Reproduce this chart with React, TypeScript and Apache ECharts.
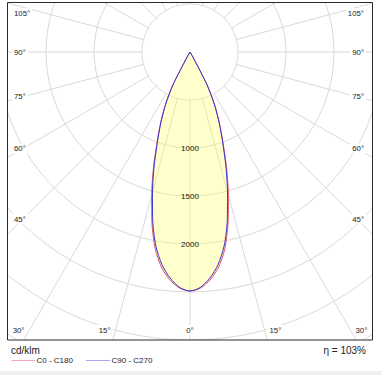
import React, { useEffect, useRef } from "react";
import * as echarts from "echarts";

// Photometric data (cd/klm) by gamma angle (deg), symmetric halves
const GAMMA = [0, 2.5, 5, 7.5, 10, 12.5, 15, 17.5, 20, 22.5, 25, 27.5, 30, 32.5];
const C0_C180 = [2490, 2462, 2385, 2265, 2085, 1830, 1545, 1265, 1005, 800, 605, 385, 60, 0];
const C90_C270 = [2490, 2455, 2365, 2235, 2050, 1795, 1510, 1240, 990, 790, 600, 380, 60, 0];
const RING_LABELS = [1000, 1500, 2000];
const ANGLE_LABELS = [0, 15, 30, 45, 60, 75, 90, 105];
const SERIES_NAMES = ["C0 - C180", "C90 - C270"];
const UNIT = "cd/klm";
const EFFICIENCY = "\u03b7 = 103%";

const RMAX = 4000;
const RSTEP = 500;
const CX = 190;
const CY = 52;
const RPX = 384;
const FONT = "'Liberation Sans', Arial, sans-serif";

function halfToFull(vals: number[]): [number, number][] {
  const right: [number, number][] = GAMMA.map((g, i) => [vals[i], -g] as [number, number]).reverse();
  const left: [number, number][] = GAMMA.slice(1).map((g, i) => [vals[i + 1], g] as [number, number]);
  return [...right, ...left];
}

function angleLabelElements() {
  const els: any[] = [];
  const bottomY = 330;
  const sideDx = 167;
  const base = { fill: "#1a1a1a", fontSize: 7.8, fontFamily: FONT, verticalAlign: "middle" };
  for (const a of ANGLE_LABELS) {
    const rad = (a * Math.PI) / 180;
    const s = Math.sin(rad);
    const c = Math.cos(rad);
    if (a === 0) {
      els.push({ type: "text", z: 12, style: { ...base, text: a + "\u00b0", x: CX, y: bottomY, align: "center", backgroundColor: "#fff", padding: [1, 1] } });
      continue;
    }
    for (const side of [-1, 1]) {
      const ySide = CY + (sideDx / s) * c;
      let x: number, y: number, align: string;
      if (ySide <= bottomY) {
        y = Math.max(ySide, 13);
        x = side < 0 ? 12 : 366;
        align = side < 0 ? "left" : "right";
      } else {
        const t = (bottomY - CY) / c;
        x = CX + side * t * s + side * 3;
        y = bottomY;
        align = side < 0 ? "right" : "left";
      }
      els.push({ type: "text", z: 12, style: { ...base, text: a + "\u00b0", x, y, align, backgroundColor: "#fff", padding: [1, 2] } });
    }
  }
  return els;
}

export default function App() {
  const ref = useRef<HTMLDivElement>(null);
  useEffect(() => {
    if (!ref.current) return;
    const chart = echarts.init(ref.current, undefined, { renderer: "svg" });
    const ringEls = RING_LABELS.map((v) => ({
      type: "text",
      z: 12,
      style: {
        text: String(v),
        x: CX,
        y: CY + (v / RMAX) * RPX,
        align: "center",
        verticalAlign: "middle",
        fill: "#111",
        fontSize: 8,
        fontFamily: FONT,
      },
    }));
    const graphic: any[] = [
      { type: "circle", z: 1, shape: { cx: CX, cy: CY, r: (RSTEP / RMAX) * RPX - 0.6 }, style: { fill: "#fff" } },
      // masks outside the frame
      { type: "rect", z: 10, shape: { x: 0, y: 0, width: 7.5, height: 375 }, style: { fill: "#fff" } },
      { type: "rect", z: 10, shape: { x: 373, y: 0, width: 9, height: 375 }, style: { fill: "#fff" } },
      { type: "rect", z: 10, shape: { x: 0, y: 0, width: 382, height: 2.5 }, style: { fill: "#fff" } },
      { type: "rect", z: 10, shape: { x: 0, y: 340, width: 382, height: 35 }, style: { fill: "#fff" } },
      { type: "rect", z: 11, shape: { x: 0, y: 371, width: 382, height: 4 }, style: { fill: "#efefef" } },
      { type: "rect", z: 11, shape: { x: 7.5, y: 2.5, width: 365, height: 337.5 }, style: { fill: "none", stroke: "#2a2a2a", lineWidth: 1 } },
      ...angleLabelElements(),
      ...ringEls,
      // legend
      { type: "text", z: 12, style: { text: UNIT, x: 11, y: 350, verticalAlign: "middle", fill: "#222", fontSize: 10, fontFamily: FONT } },
      { type: "text", z: 12, style: { text: EFFICIENCY, x: 366, y: 350, align: "right", verticalAlign: "middle", fill: "#222", fontSize: 10, fontFamily: FONT } },
      { type: "line", z: 12, shape: { x1: 11.5, y1: 360.5, x2: 35, y2: 360.5 }, style: { stroke: "#f0a8b8", lineWidth: 1 } },
      { type: "text", z: 12, style: { text: SERIES_NAMES[0], x: 36.5, y: 360, verticalAlign: "middle", fill: "#222", fontSize: 8, fontFamily: FONT } },
      { type: "line", z: 12, shape: { x1: 86, y1: 360.5, x2: 110, y2: 360.5 }, style: { stroke: "#a8a8ea", lineWidth: 1 } },
      { type: "text", z: 12, style: { text: SERIES_NAMES[1], x: 111.5, y: 360, verticalAlign: "middle", fill: "#222", fontSize: 8, fontFamily: FONT } },
    ];
    chart.setOption({
      animation: false,
      polar: { center: [CX, CY], radius: RPX },
      angleAxis: {
        type: "value",
        min: -180,
        max: 180,
        interval: 15,
        startAngle: 90,
        clockwise: true,
        axisLine: { show: false },
        axisTick: { show: false },
        axisLabel: { show: false },
        splitLine: { show: true, lineStyle: { color: "#d9d9d9", width: 1 } },
      },
      radiusAxis: {
        type: "value",
        min: 0,
        max: RMAX,
        interval: RSTEP,
        axisLine: { show: false },
        axisTick: { show: false },
        axisLabel: { show: false },
        splitLine: { show: true, lineStyle: { color: "#d9d9d9", width: 1 } },
      },
      series: [
        {
          name: SERIES_NAMES[0],
          type: "line",
          coordinateSystem: "polar",
          data: halfToFull(C0_C180),
          symbol: "none",
          smooth: 0.25,
          clip: false,
          lineStyle: { color: "#e0506a", width: 1 },
          areaStyle: { color: "rgba(255,255,110,0.5)" },
          z: 2,
        },
        {
          name: SERIES_NAMES[1],
          type: "line",
          coordinateSystem: "polar",
          data: halfToFull(C90_C270),
          symbol: "none",
          smooth: 0.25,
          clip: false,
          lineStyle: { color: "#3a32d0", width: 1 },
          z: 3,
        },
      ],
      graphic,
    });
    return () => chart.dispose();
  }, []);
  return <div ref={ref} style={{ position: "absolute", left: 0, top: 0, width: 382, height: 375 }} />;
}
